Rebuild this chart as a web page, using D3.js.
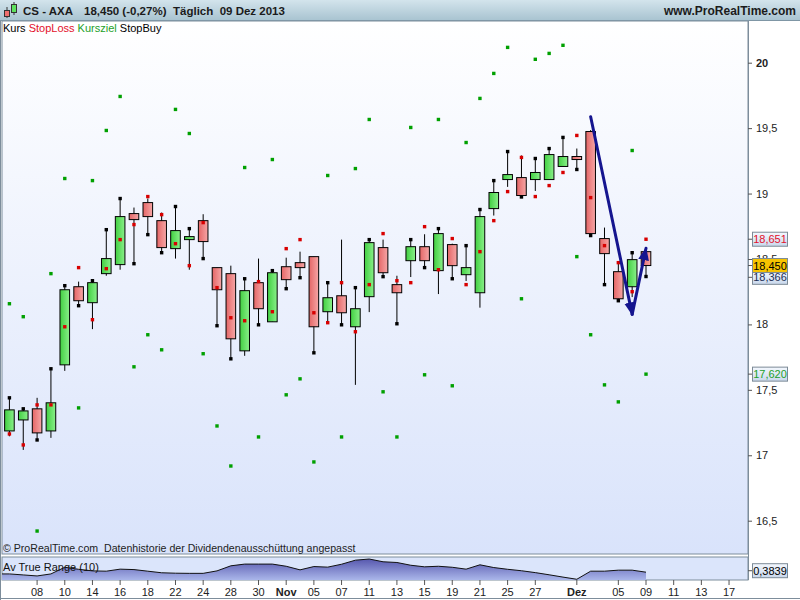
<!DOCTYPE html>
<html>
<head>
<meta charset="utf-8">
<script src="https://cdn.jsdelivr.net/npm/d3@7"></script>
<style>
  body { margin: 0; background: #fff; }
  svg { display: block; font-family: "Liberation Sans", Arial, sans-serif; }
</style>
</head>
<body>
<svg id="chart"></svg>
<script>
// Handelstage (AXA, Okt - Dez 2013) plus leere Tage rechts
const dates = [
  "2013-10-04","2013-10-07","2013-10-08","2013-10-09","2013-10-10","2013-10-11",
  "2013-10-14","2013-10-15","2013-10-16","2013-10-17","2013-10-18",
  "2013-10-21","2013-10-22","2013-10-23","2013-10-24","2013-10-25",
  "2013-10-28","2013-10-29","2013-10-30","2013-10-31","2013-11-01",
  "2013-11-04","2013-11-05","2013-11-06","2013-11-07","2013-11-08",
  "2013-11-11","2013-11-12","2013-11-13","2013-11-14","2013-11-15",
  "2013-11-18","2013-11-19","2013-11-20","2013-11-21","2013-11-22",
  "2013-11-25","2013-11-26","2013-11-27","2013-11-28","2013-11-29",
  "2013-12-02","2013-12-03","2013-12-04","2013-12-05","2013-12-06","2013-12-09"
];
const futureDates = ["2013-12-10","2013-12-11","2013-12-12","2013-12-13","2013-12-16","2013-12-17","2013-12-18"];

const openP = [17.186,17.270,17.355,17.186,17.691,18.288,18.166,18.388,18.457,18.847,18.931,18.793,18.579,18.648,18.793,18.434,18.388,17.798,18.319,18.020,18.441,18.472,18.518,18.097,18.219,17.982,18.212,18.587,18.304,18.487,18.594,18.411,18.610,18.380,18.242,18.885,19.107,19.122,19.107,19.107,19.207,19.283,19.474,18.656,18.403,18.288,18.556];
const highP = [17.439,17.355,17.439,17.661,18.296,18.327,18.334,18.724,18.962,18.893,18.962,18.855,18.908,18.732,18.842,18.434,18.449,18.349,18.503,18.411,18.510,18.556,18.518,18.319,18.648,18.281,18.648,18.648,18.372,18.648,18.689,18.732,18.617,18.602,18.878,19.099,19.321,19.291,19.268,19.344,19.429,19.344,19.485,18.740,18.472,18.548,18.556];
const lowP = [17.145,17.041,17.117,17.133,17.645,18.143,17.964,18.372,18.418,18.464,18.686,18.548,18.503,18.418,18.503,17.990,17.737,17.760,17.997,18.020,18.273,18.357,17.783,18.013,17.997,17.538,18.094,18.365,18.005,18.362,18.434,18.232,18.349,18.332,18.128,18.832,19.051,18.974,19.020,19.107,19.207,19.184,18.679,18.304,18.181,18.209,18.357];
const closeP = [17.347,17.339,17.171,17.401,18.265,18.181,18.319,18.503,18.824,18.801,18.824,18.587,18.717,18.671,18.633,18.265,17.890,18.258,18.120,18.395,18.342,18.434,17.982,18.204,18.089,18.120,18.625,18.395,18.242,18.594,18.487,18.694,18.449,18.434,18.824,19.008,19.145,18.985,19.161,19.298,19.283,19.260,18.694,18.541,18.196,18.495,18.450];

const stopBuy = [17.439,17.355,17.117,17.661,18.296,18.143,18.334,18.724,18.962,18.464,18.686,18.548,18.901,18.732,18.503,17.990,17.737,18.349,17.997,18.411,18.273,18.357,17.783,18.319,17.997,18.281,18.648,18.365,18.005,18.648,18.434,18.732,18.349,18.602,18.878,19.099,19.321,18.974,19.268,19.344,19.429,19.184,18.679,18.304,18.181,18.548,18.366];
const stopLoss = [17.163,17.079,17.385,17.385,17.982,18.434,18.036,18.426,18.648,18.763,18.977,18.839,18.617,18.449,18.778,18.281,18.051,18.028,18.327,18.097,18.579,18.648,18.089,18.013,18.319,17.944,18.304,18.694,18.334,18.319,18.747,18.418,18.656,18.304,18.556,18.793,19.015,19.276,18.977,19.061,19.161,19.444,18.969,18.602,18.472,18.250,18.651];
const kursziel = [18.158,18.059,16.421,18.388,19.115,17.362,19.099,19.482,19.742,17.676,17.921,17.806,19.643,19.459,17.776,17.224,16.918,19.199,17.140,19.260,17.462,17.584,16.949,19.138,17.140,19.191,19.566,17.485,17.140,19.505,17.615,19.566,17.531,19.390,19.727,19.918,20.117,18.196,20.026,20.071,20.133,18.518,17.921,17.538,17.408,19.329,17.620];

const atr = [0.372,0.365,0.358,0.372,0.418,0.404,0.393,0.391,0.405,0.402,0.391,0.380,0.377,0.376,0.376,0.393,0.428,0.440,0.440,0.440,0.425,0.400,0.423,0.419,0.439,0.467,0.475,0.456,0.451,0.432,0.421,0.425,0.418,0.405,0.435,0.416,0.404,0.394,0.381,0.366,0.350,0.335,0.391,0.391,0.398,0.398,0.3839];

const yTicks = [16.5, 17, 17.5, 18, 18.5, 19, 19.5, 20];
const tickDates = ["2013-10-08","2013-10-10","2013-10-14","2013-10-16","2013-10-18","2013-10-22","2013-10-24","2013-10-28","2013-10-30","2013-11-01","2013-11-05","2013-11-07","2013-11-11","2013-11-13","2013-11-15","2013-11-19","2013-11-21","2013-11-25","2013-11-27","2013-12-02","2013-12-05","2013-12-09","2013-12-11","2013-12-13","2013-12-17"];
const tickLabels = ["08","10","14","16","18","22","24","28","30","Nov","05","07","11","13","15","19","21","25","27","Dez","05","09","11","13","17"];

// Trendpfeil (Datum-Index, Kurs)
const arrowIdx = [42, 45, 46];
const arrowPrice = [19.587, 18.077, 18.582];

const W = 800, H = 600;
const plotL = 2, plotR = 748, plotT = 21, plotB = 554;
const atrT = 557, atrB = 580;

const de = d3.formatLocale({decimal: ",", thousands: ".", grouping: [3], currency: ["", "€"]});
const fmtTick = de.format(".1~f");
const fmt3 = de.format(".3f");
const fmt4 = de.format(".4f");

const svg = d3.select("#chart").attr("width", W).attr("height", H);
const defs = svg.append("defs");

function vGrad(id, stops, y1, y2) {
  const gr = defs.append("linearGradient").attr("id", id)
    .attr("gradientUnits", "userSpaceOnUse")
    .attr("x1", 0).attr("x2", 0).attr("y1", y1).attr("y2", y2);
  stops.forEach((c, i) => gr.append("stop").attr("offset", i / (stops.length - 1)).attr("stop-color", c));
}
function hGrad(id, stops) {
  const gr = defs.append("linearGradient").attr("id", id)
    .attr("x1", 0).attr("x2", 1).attr("y1", 0).attr("y2", 0);
  stops.forEach((c, i) => gr.append("stop").attr("offset", i / (stops.length - 1)).attr("stop-color", c));
}
vGrad("bgMain", ["#ffffff", "#d9e3fb"], plotT, plotB);
vGrad("bgHead", ["#d3e4ec", "#a9c4d1"], 0, 20);
vGrad("atrFill", ["#4f4fa8", "#aab6ea"], atrT, atrB);
hGrad("upBody", ["#41cf41", "#8af08a"]);
hGrad("downBody", ["#e46666", "#f6a6a6"]);
vGrad("boxFill", ["#f4f8fe", "#c9d8ec"], 0, 1);
defs.select("#boxFill").attr("gradientUnits", null).attr("y2", 1);

defs.append("clipPath").attr("id", "clipMain").append("rect")
  .attr("x", plotL).attr("y", plotT).attr("width", plotR - plotL).attr("height", plotB - plotT);
defs.append("clipPath").attr("id", "clipAtr").append("rect")
  .attr("x", plotL).attr("y", atrT).attr("width", plotR - plotL).attr("height", atrB - atrT);

defs.append("marker").attr("id", "arrowHead")
  .attr("viewBox", "0 0 12 10").attr("markerUnits", "userSpaceOnUse")
  .attr("markerWidth", 13).attr("markerHeight", 11)
  .attr("refX", 11).attr("refY", 5).attr("orient", "auto")
  .append("path").attr("d", "M0,0 L12,5 L0,10 Z").attr("fill", "#15158f");

// scales
const x = d3.scaleBand().domain(dates.concat(futureDates)).range([2.5, 749.8]);
const cx = i => x(dates[i]) + x.bandwidth() / 2;
const y = d3.scaleLinear().domain([16.5, 20]).range([520.7, 62.7]);
const yA = d3.scaleLinear().domain([0.33, 0.489]).range([atrB, atrT]);

// background and frames
svg.append("rect").attr("width", W).attr("height", H).attr("fill", "#ffffff");
svg.append("rect").attr("x", plotL).attr("y", plotT).attr("width", plotR - plotL).attr("height", plotB - plotT)
  .attr("fill", "url(#bgMain)").attr("stroke", "#7d8d9b");
svg.append("rect").attr("x", plotL).attr("y", atrT).attr("width", plotR - plotL).attr("height", atrB - atrT)
  .attr("fill", "#dbe5fb").attr("stroke", "#7d8d9b");
svg.append("line").attr("x1", 0.5).attr("x2", 0.5).attr("y1", 20).attr("y2", H).attr("stroke", "#7d8d9b");
svg.append("line").attr("x1", plotR + 0.5).attr("x2", plotR + 0.5).attr("y1", 20).attr("y2", atrB).attr("stroke", "#7d8d9b");
svg.append("line").attr("x1", 0).attr("x2", W).attr("y1", H - 1.5).attr("y2", H - 1.5).attr("stroke", "#7d8d9b");

// header bar
svg.append("rect").attr("x", 0).attr("y", 0).attr("width", W).attr("height", 20).attr("fill", "url(#bgHead)");
svg.append("line").attr("x1", 0).attr("x2", W).attr("y1", 20.5).attr("y2", 20.5).attr("stroke", "#7f96a5");
const icon = svg.append("g");
icon.append("line").attr("x1", 7).attr("x2", 7).attr("y1", 7).attr("y2", 18).attr("stroke", "#333");
icon.append("rect").attr("x", 4.5).attr("y", 10.5).attr("width", 5).attr("height", 6).attr("fill", "#ef6f6f").attr("stroke", "#333");
icon.append("line").attr("x1", 14).attr("x2", 14).attr("y1", 2).attr("y2", 15).attr("stroke", "#333");
icon.append("rect").attr("x", 11.5).attr("y", 4.5).attr("width", 5).attr("height", 8).attr("fill", "#5ee25e").attr("stroke", "#333");

const head = svg.append("g").attr("font-weight", "bold").attr("font-size", 11.5).attr("fill", "#1b1b1b");
head.append("text").attr("x", 23).attr("y", 15).text("CS - AXA");
head.append("text").attr("x", 84).attr("y", 15).text("18,450 (-0,27%)");
head.append("text").attr("x", 173).attr("y", 15).attr("xml:space", "preserve").text("Täglich  09 Dez 2013");
head.append("text").attr("x", 796).attr("y", 15).attr("text-anchor", "end").attr("font-size", 12).text("www.ProRealTime.com");

// legend
const leg = svg.append("text").attr("x", 3).attr("y", 32).attr("font-size", 11);
leg.append("tspan").attr("fill", "#000").text("Kurs ");
leg.append("tspan").attr("fill", "#e3102b").text("StopLoss ");
leg.append("tspan").attr("fill", "#22a02a").text("Kursziel ");
leg.append("tspan").attr("fill", "#000").text("StopBuy");

// right price axis
const axisR = svg.append("g").attr("transform", `translate(${plotR},0)`)
  .call(d3.axisRight(y).tickValues(yTicks).tickSize(4).tickPadding(4).tickFormat(fmtTick));
axisR.select(".domain").remove();
axisR.selectAll("line").attr("stroke", "#555");
axisR.selectAll("text").attr("font-size", 11).attr("fill", "#222").attr("font-family", "Liberation Sans, Arial, sans-serif")
  .attr("font-weight", d => d === 20 ? "bold" : "normal");

// candles
const idx = d3.range(dates.length);
const main = svg.append("g").attr("clip-path", "url(#clipMain)");
main.selectAll("line.wick").data(idx).join("line").attr("class", "wick")
  .attr("x1", i => cx(i)).attr("x2", i => cx(i))
  .attr("y1", i => y(highP[i])).attr("y2", i => y(lowP[i]))
  .attr("stroke", "#000").attr("stroke-width", 1);
main.selectAll("rect.body").data(idx).join("rect").attr("class", "body")
  .attr("x", i => cx(i) - 4.8).attr("width", 9.6)
  .attr("y", i => y(Math.max(openP[i], closeP[i])))
  .attr("height", i => Math.max(1.5, Math.abs(y(openP[i]) - y(closeP[i]))))
  .attr("fill", i => closeP[i] >= openP[i] ? "url(#upBody)" : "url(#downBody)")
  .attr("stroke", "#000").attr("stroke-width", 1);

// indicator points
function dots(values, color, cls) {
  main.selectAll("rect." + cls).data(idx).join("rect").attr("class", cls)
    .attr("x", i => cx(i) - 1.7).attr("y", i => y(values[i]) - 1.7)
    .attr("width", 3.4).attr("height", 3.4).attr("fill", color);
}
dots(kursziel, "#00a000", "kz");
dots(stopLoss, "#d80000", "sl");
dots(stopBuy, "#000000", "sb");

// arrow
for (let k = 0; k < arrowIdx.length - 1; k++) {
  main.append("line")
    .attr("x1", cx(arrowIdx[k])).attr("y1", y(arrowPrice[k]))
    .attr("x2", cx(arrowIdx[k + 1])).attr("y2", y(arrowPrice[k + 1]))
    .attr("stroke", "#15158f").attr("stroke-width", 3).attr("stroke-linecap", "round")
    .attr("marker-end", "url(#arrowHead)");
}

svg.append("text").attr("x", 3).attr("y", 552).attr("font-size", 10.6).attr("fill", "#222")
  .attr("xml:space", "preserve")
  .text("© ProRealTime.com  Datenhistorie der Dividendenausschüttung angepasst");

// value boxes on the right axis
function valueBox(v, yPos, label, color, fill) {
  svg.append("line").attr("x1", plotR).attr("x2", plotR + 5).attr("y1", yPos).attr("y2", yPos).attr("stroke", "#555");
  svg.append("rect").attr("x", 752.5).attr("y", yPos - 7).attr("width", 35).attr("height", 14)
    .attr("fill", fill).attr("stroke", "#7c8a96");
  svg.append("text").attr("x", 770).attr("y", yPos + 4).attr("text-anchor", "middle")
    .attr("font-size", 11).attr("fill", color).text(label);
}
const last = dates.length - 1;
valueBox(stopLoss[last], y(stopLoss[last]), fmt3(stopLoss[last]), "#e3102b", "url(#boxFill)");
valueBox(stopBuy[last], y(stopBuy[last]) + 0.8, fmt3(stopBuy[last]), "#1c2f55", "url(#boxFill)");
valueBox(closeP[last], y(closeP[last]), fmt3(closeP[last]), "#000", "#f7c400");
valueBox(kursziel[last], y(kursziel[last]), fmt3(kursziel[last]), "#22a02a", "url(#boxFill)");

// ATR panel
const atrPts = [{x: plotL, v: atr[0]}].concat(idx.map(i => ({x: cx(i), v: atr[i]})));
const atrG = svg.append("g").attr("clip-path", "url(#clipAtr)");
atrG.append("path").datum(atrPts)
  .attr("d", d3.area().x(d => d.x).y0(atrB).y1(d => yA(d.v)))
  .attr("fill", "url(#atrFill)");
atrG.append("path").datum(atrPts)
  .attr("d", d3.line().x(d => d.x).y(d => yA(d.v)))
  .attr("fill", "none").attr("stroke", "#111").attr("stroke-width", 1);
svg.append("text").attr("x", 3).attr("y", 571).attr("font-size", 11).attr("fill", "#111").text("Av True Range (10)");
valueBox(atr[last], yA(atr[last]) - 1.5, fmt4(atr[last]), "#000", "url(#boxFill)");

// bottom date axis
const axisB = svg.append("g").attr("transform", `translate(0,${atrB})`)
  .call(d3.axisBottom(x).tickValues(tickDates).tickSize(5).tickPadding(3).tickFormat((d, i) => tickLabels[i]));
axisB.select(".domain").remove();
axisB.selectAll("line").attr("stroke", "#555");
axisB.selectAll("text").attr("font-size", 11).attr("fill", "#222").attr("font-family", "Liberation Sans, Arial, sans-serif")
  .attr("font-weight", (d, i) => /^[A-Z]/.test(tickLabels[i]) ? "bold" : "normal");
</script>
</body>
</html>
